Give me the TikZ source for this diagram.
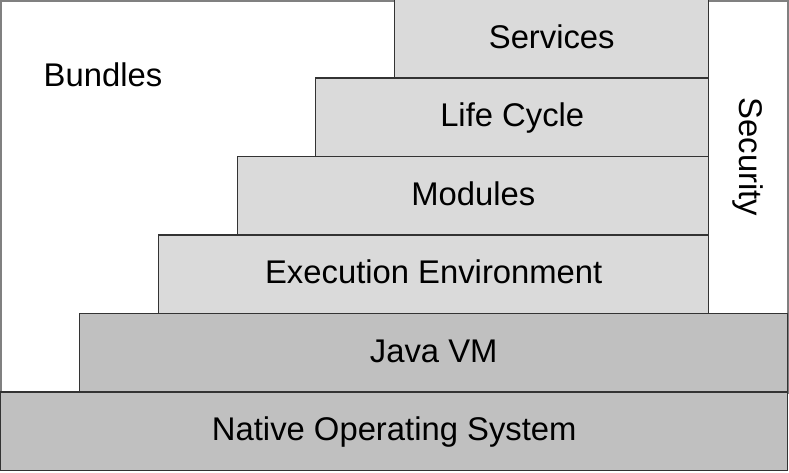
\documentclass[tikz,border=0pt]{standalone}
\usepackage{fontspec}
\setmainfont{Liberation Sans}
\usetikzlibrary{positioning}
\definecolor{layerlight}{gray}{0.855}
\definecolor{layerdark}{gray}{0.753}

\begin{document}
\begin{tikzpicture}[x=1pt,y=-1pt,font=\fontsize{32.8}{38}\selectfont,
                    inner sep=0pt,outer sep=0pt]
          \tikzstyle{frame}=[draw=black!50,line width=1.5pt,fill=white,rectangle]
          \tikzstyle{layer}=[draw=black!80,line width=1.2pt,fill=layerlight,rectangle,
                             minimum height=78.5pt,text height=24.6pt,text depth=5.2pt]
          \tikzstyle{platform}=[layer,fill=layerdark]

          \useasboundingbox (0,0) rectangle (789,472);

          \node[frame,anchor=north west,minimum width=787pt,minimum height=392pt] (bundles) at (0.75,0.75) {};
          \node (bundlestext) at (103,75) {Bundles};

          \node[platform,anchor=north west,minimum width=787pt] (os) at (0.75,392) {Native Operating System};
          \node[platform,anchor=south east,minimum width=708pt] (jvm) at (os.north east) {Java VM};

          \node[anchor=south east,minimum width=79pt,minimum height=313pt] (sec) at (jvm.north east) {};
          \node[rotate=-90] (sectext) at (sec.center) {Security};

          \node[layer,anchor=south east,minimum width=550pt] (ee) at (sec.south west) {Execution Environment};
          \node[layer,anchor=south east,minimum width=471pt] (modules) at (ee.north east) {Modules};
          \node[layer,anchor=south east,minimum width=393pt] (lifecycle) at (modules.north east) {Life Cycle};
          \node[layer,anchor=south east,minimum width=314pt] (services) at (lifecycle.north east) {Services};

        \end{tikzpicture}
\end{document}
